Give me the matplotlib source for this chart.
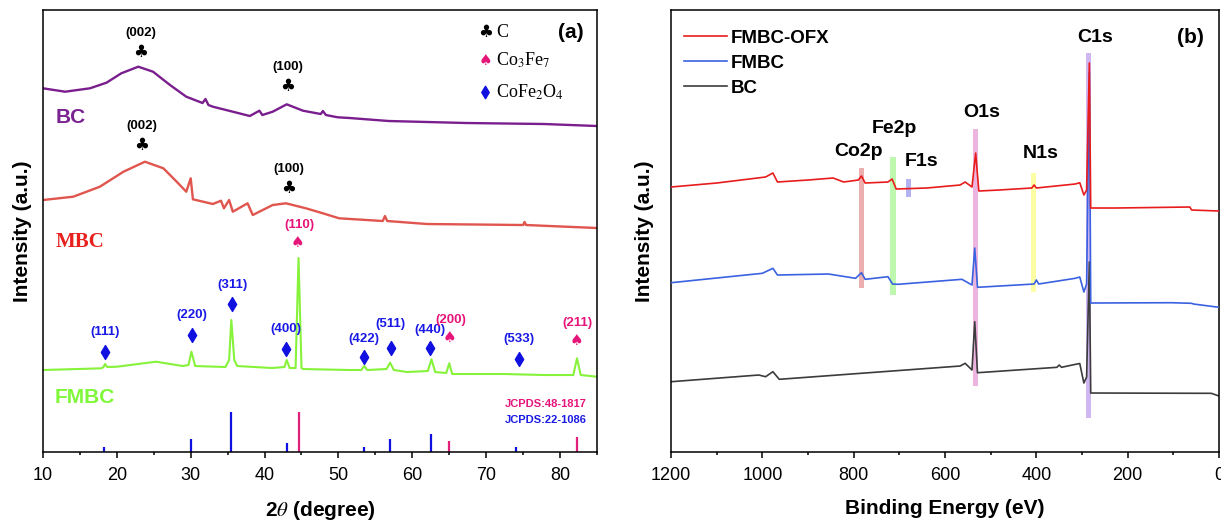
import numpy as np
import matplotlib
matplotlib.use("Agg")
import matplotlib.pyplot as plt

plt.rcParams['font.family'] = ['Liberation Sans', 'DejaVu Sans']
plt.rcParams['mathtext.fontset'] = 'stix'

# ---------------- (a) XRD ----------------
bc_2t = [10, 13.0, 16.35, 18.6, 20.6, 22.9, 24.9, 27.2, 29.4, 31.6, 32.0, 32.4, 33.0,
         35.7, 38.0, 39.3, 39.7, 41.1, 43.0, 45.2, 47.6, 47.9, 48.3, 49.9, 51.5, 56.8,
         67.3, 77.8, 85]
bc_int = [363.7, 360.3, 363.7, 369.3, 378.7, 385.3, 380.3, 367, 355.3, 349, 353, 347,
          345.3, 340.3, 336, 341.3, 337, 340.3, 347.7, 341.3, 338, 341, 337, 334.7,
          334, 331, 329, 328, 326]

mbc_2t = [10, 14.1, 17.7, 20.9, 23.8, 26.3, 28.1, 29.4, 30.0, 30.3, 33.0, 34.1, 34.5,
          35.2, 35.7, 37.7, 38.4, 41.1, 42.9, 45.6, 47.9, 50.1, 56.0, 56.3, 56.6, 62,
          75.0, 75.2, 75.4, 85]
mbc_int = [252, 255.3, 265.3, 280.3, 290.3, 283.7, 270.3, 260.3, 273.7, 252.7, 248,
           251.3, 243.7, 252, 240.3, 248.7, 237, 247, 248.7, 243.7, 238.7, 233.7, 231,
           236, 231, 228, 227, 230, 227, 224]

fmbc_2t = [10, 17.9, 18.2, 18.4, 18.7, 20, 25.3, 28.9, 29.7, 30.1, 30.6, 34.7, 35.2, 35.5,
           35.9, 36.3, 41, 42.7, 43.0, 43.4, 44.2, 44.6, 45.0, 45.2, 51.5, 53.1, 53.5, 53.9,
           56.5, 57.0, 57.5, 59.3, 62.1, 62.6, 63.1, 64.6, 65.0, 65.4, 72.5, 77.8, 81.8,
           82.3, 82.8, 85]
fmbc_int = [82, 83.7, 85, 88, 85, 85.3, 90.3, 86, 87, 100.3, 86, 85, 92, 132,
            92, 86, 84, 85, 92, 84, 84, 194, 84, 83, 82, 82, 86, 82,
            83, 89.3, 82, 80, 81, 92.7, 80, 79, 88.7, 78, 78, 77, 77,
            93.7, 77, 75.3]

# reference patterns
cofe2o4_pos = [18.3, 30.1, 35.5, 43.0, 53.5, 57.0, 62.6, 74.0]
cofe2o4_h = [5, 13, 40, 9, 5, 13, 17.7, 4.7]
co3fe7_pos = [44.7, 65.0, 82.3]
co3fe7_h = [40, 11, 15]

# hkl markers on FMBC
spinel_hkl = ['(111)', '(220)', '(311)', '(400)', '(422)', '(511)', '(440)', '(533)']
spinel_2t = [18.4, 30.2, 35.6, 42.9, 53.4, 57.1, 62.4, 74.4]
spinel_mark_y = [99.7, 117, 148, 102.7, 95.3, 104.3, 104, 93.3]
alloy_hkl = ['(110)', '(200)', '(211)']
alloy_2t = [44.5, 65.0, 82.2]
alloy_mark_y = [210, 114.7, 112]
carbon_hkl = ['(002)', '(100)', '(002)', '(100)']
carbon_2t = [23.2, 43.1, 23.4, 43.3]
carbon_mark_y = [400, 366, 307, 264]

# ---------------- (b) XPS ----------------
ofx_be = [1200, 1100, 993, 977, 967, 900, 845, 822, 790, 783, 775, 725, 716, 707, 640,
          567, 556, 541, 533, 526, 482, 410, 405, 400, 315, 305, 296, 290, 284, 281,
          226, 64, 60, 0]
ofx_int = [265, 269, 275, 279, 270, 272, 274, 270, 272, 276, 269, 270, 273, 263, 264,
           267, 270, 265, 299, 261, 262, 264, 267, 264, 268, 269.3, 257, 262, 389, 244,
           244, 245, 242, 241]

fmbc_be = [1200, 1100, 1000, 977, 967, 855, 796, 783, 775, 725, 715, 703, 563, 541,
           535, 529, 405, 400, 395, 315, 305, 296, 290, 284, 281, 105, 60, 56, 0]
fmbc_xps = [169.3, 174, 178.7, 183.7, 177, 178, 173.7, 179.3, 172.7, 175.3, 168, 167.7,
            172.7, 167, 204, 164.7, 168, 172, 168, 173.7, 175, 160, 168, 380, 149,
            149.3, 148.7, 148, 144.7]

bc_be = [1200, 1008, 993, 977, 963, 567, 556, 541, 535, 529, 355, 350, 345, 311, 305,
         296, 290, 284, 281, 17, 0]
bc_xps = [70.3, 77, 75.3, 80.3, 72.7, 86, 88.7, 82, 130.3, 79.3, 84.7, 87, 84.7, 88,
          88.5, 69, 75, 190, 59, 58.7, 56]

lines_name = ['Co2p', 'Fe2p', 'F1s', 'O1s', 'N1s', 'C1s']
lines_be = [782, 714, 679, 534, 407, 285]
band_lo = [163.7, 157, 254.7, 66, 159.7, 34.3]
band_hi = [284.3, 295.3, 273, 322.7, 279.3, 399.3]
band_col = ['#e89a9a', '#aef59a', '#a0a0f0', '#e8a2d6', '#fdfd8c', '#c6a4f2']
label_xy = [(790, 301), (710, 324), (651, 291), (519, 340), (390, 299), (272, 415)]

fig = plt.figure(figsize=(12.21, 5.21), dpi=100)
ax1 = fig.add_axes([0.0352, 0.1324, 0.4537, 0.8484])
ax2 = fig.add_axes([0.5496, 0.1324, 0.4488, 0.8484])

blue_t = '#1a1ae6'
mag_t = '#e6157a'

# --- panel (a) ---
ax1.plot(bc_2t, bc_int, color='#7a1e8e', lw=1.7)
ax1.plot(mbc_2t, mbc_int, color='#e0554e', lw=1.7)
ax1.plot(fmbc_2t, fmbc_int, color='#86f23a', lw=1.5)
ax1.vlines(cofe2o4_pos, 0, cofe2o4_h, color='#1010e0', lw=1.6)
ax1.vlines(co3fe7_pos, 0, co3fe7_h, color='#e0207a', lw=1.6)

for lab, x, y in zip(carbon_hkl, carbon_2t, carbon_mark_y):
    ax1.text(x, y, '♣', ha='center', va='center', fontsize=12, color='black',
             family='DejaVu Sans')
    ax1.text(x, y + 19, lab, ha='center', va='center', fontsize=9.5,
             fontweight='bold')

ax1.scatter(spinel_2t, spinel_mark_y, marker='d', s=50, color='#1010e0', zorder=5)
label_dy = [20.6, 20, 19, 20.3, 17.4, 23.4, 18, 20]
for lab, x, y, dy in zip(spinel_hkl, spinel_2t, spinel_mark_y, label_dy):
    ax1.text(x, y + dy, lab, ha='center', va='center', fontsize=9.5,
             fontweight='bold', color=blue_t)

for lab, x, y in zip(alloy_hkl, alloy_2t, alloy_mark_y):
    ax1.text(x, y, '♠', ha='center', va='center', fontsize=11, color=mag_t,
             family='DejaVu Sans')
    ax1.text(x + 0.2, y + 17, lab, ha='center', va='center', fontsize=9.5,
             fontweight='bold', color=mag_t)

ax1.text(13.8, 335, 'BC', color='#7b2390', fontsize=15, fontweight='bold',
         ha='center', va='center')
ax1.text(15.0, 210, 'MBC', color='#e8201e', fontsize=15, fontweight='bold',
         family='Liberation Serif', ha='center', va='center')
ax1.text(15.6, 55, 'FMBC', color='#80f83a', fontsize=15, fontweight='bold',
         ha='center', va='center')

# legend of phases
ax1.text(69.9, 420, '♣', ha='center', va='center', fontsize=12, family='DejaVu Sans')
ax1.text(71.4, 420, 'C', ha='left', va='center', fontsize=13, family='Liberation Serif')
ax1.text(69.9, 392, '♠', ha='center', va='center', fontsize=11, color=mag_t,
         family='DejaVu Sans')
ax1.text(71.4, 392, r'Co$_3$Fe$_7$', ha='left', va='center', fontsize=13,
         family='Liberation Serif')
ax1.scatter([69.9], [360], marker='d', s=40, color='#1010e0')
ax1.text(71.4, 360, r'CoFe$_2$O$_4$', ha='left', va='center', fontsize=13,
         family='Liberation Serif')
ax1.text(81.5, 420, '(a)', ha='center', va='center', fontsize=15, fontweight='bold')
ax1.text(83.6, 48, 'JCPDS:48-1817', ha='right', va='center', fontsize=8,
         fontweight='bold', color=mag_t)
ax1.text(83.6, 32, 'JCPDS:22-1086', ha='right', va='center', fontsize=8,
         fontweight='bold', color=blue_t)

ax1.set_xlim(10, 85)
ax1.set_ylim(0, 442)
ax1.set_xticks(np.arange(10, 81, 10))
ax1.set_xticks(np.arange(15, 86, 10), minor=True)
ax1.set_yticks([])
ax1.set_xlabel(r'2$\theta$ (degree)', fontsize=15, fontweight='bold', labelpad=11)
ax1.set_ylabel('Intensity (a.u.)', fontsize=15, fontweight='bold', labelpad=8)

# --- panel (b) ---
for lo, hi, x, c in zip(band_lo, band_hi, lines_be, band_col):
    ax2.bar(x, hi - lo, bottom=lo, width=11, color=c, alpha=0.8, zorder=1)
ax2.plot(bc_be, bc_xps, color='#3c3c3c', lw=1.2, label='BC', zorder=2)
ax2.plot(fmbc_be, fmbc_xps, color='#3a62e0', lw=1.2, label='FMBC', zorder=3)
ax2.plot(ofx_be, ofx_int, color='#e81c1c', lw=1.2, label='FMBC-OFX', zorder=4)
for name, (x, y) in zip(lines_name, label_xy):
    ax2.text(x, y, name, ha='center', va='center', fontsize=14, fontweight='bold')
ax2.text(63, 415, '(b)', ha='center', va='center', fontsize=15, fontweight='bold')

h, l = ax2.get_legend_handles_labels()
ax2.legend(h[::-1], l[::-1], loc='upper left', frameon=False,
           prop={'weight': 'bold', 'size': 13.5}, handlelength=2.3,
           handletextpad=0.2, labelspacing=0.42, borderaxespad=0.3,
           bbox_to_anchor=(0.0, 0.985))

ax2.set_xlim(1200, 0)
ax2.set_ylim(0, 442)
ax2.set_xticks(np.arange(1200, -1, -200))
ax2.set_xticks(np.arange(1100, 0, -200), minor=True)
ax2.set_yticks([])
ax2.set_xlabel('Binding Energy (eV)', fontsize=15, fontweight='bold', labelpad=11)
ax2.set_ylabel('Intensity (a.u.)', fontsize=15, fontweight='bold', labelpad=12)

for ax in (ax1, ax2):
    for s in ax.spines.values():
        s.set_linewidth(1.1)
    ax.tick_params(axis='x', which='major', direction='out', length=4.5, width=1.1,
                   labelsize=13, pad=6)
    ax.tick_params(axis='x', which='minor', direction='out', length=2.5, width=1.1)

fig.savefig('out.png', dpi=100)
